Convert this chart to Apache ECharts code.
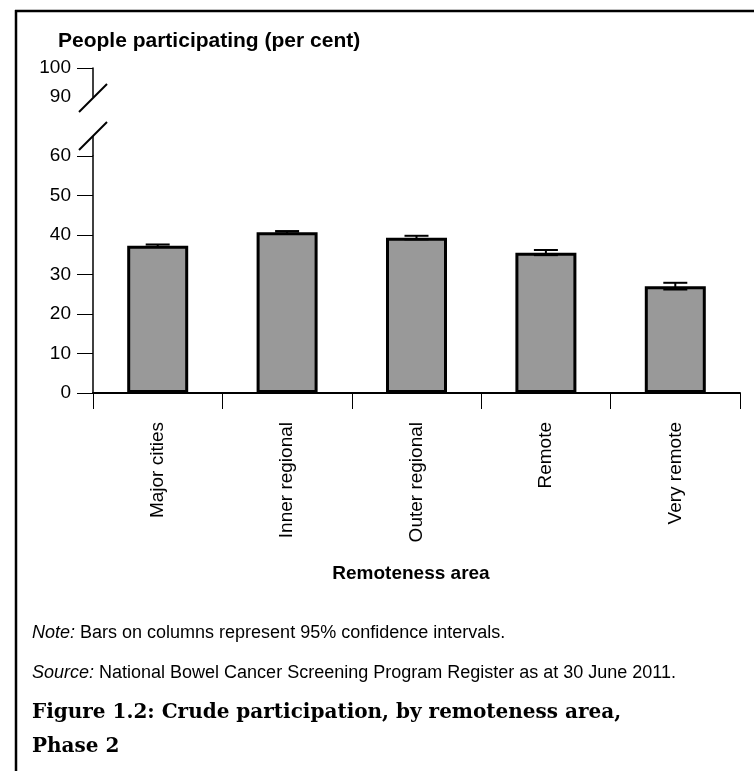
<!DOCTYPE html>
<html>
<head>
<meta charset="utf-8">
<script src="https://cdn.jsdelivr.net/npm/echarts@6/dist/echarts.min.js"></script>
<style>
  html, body { margin: 0; padding: 0; background: #fff; }
  #chart { width: 754px; height: 771px; }
</style>
</head>
<body>
<div id="chart"></div>
<script>
// data
const categories = ["Major cities", "Inner regional", "Outer regional", "Remote", "Very remote"];
const participation = [37.3, 40.7, 39.3, 35.5, 27.0];
const ciLow = [37.0, 40.4, 38.9, 34.9, 26.2];
const ciHigh = [37.6, 41.0, 39.8, 36.2, 27.9];
const lowerTicks = [0, 60, 10]; // min, max, interval
const upperTicks = [90, 100];

const font = "Arial, 'Liberation Sans', sans-serif";
const serif = "'DejaVu Serif', 'Liberation Serif', serif";
const chart = echarts.init(document.getElementById("chart"));

const option = {
  animation: false,
  backgroundColor: "#fff",
  grid: [
    { left: 93, right: 14, top: 156, bottom: 378 },
    { left: 93, right: 14, top: 68, height: 29 }
  ],
  xAxis: [
    {
      type: "category",
      gridIndex: 0,
      data: categories,
      axisLine: { lineStyle: { color: "#000", width: 2 } },
      axisTick: { show: true, length: 16, interval: 0, lineStyle: { color: "#000", width: 1 } },
      axisLabel: { rotate: 90, interval: 0, margin: 29, color: "#000", fontSize: 19, fontFamily: font },
      splitLine: { show: false }
    },
    { type: "category", gridIndex: 1, data: categories, show: false }
  ],
  yAxis: [
    {
      type: "value",
      gridIndex: 0,
      min: lowerTicks[0],
      max: lowerTicks[1],
      interval: lowerTicks[2],
      axisLine: { show: true, lineStyle: { color: "#000", width: 1.5 } },
      axisTick: { show: true, length: 16, lineStyle: { color: "#000", width: 1 } },
      axisLabel: { margin: 22, color: "#000", fontSize: 19, fontFamily: font },
      splitLine: { show: false }
    },
    {
      type: "value",
      gridIndex: 1,
      min: upperTicks[0],
      max: upperTicks[1],
      interval: 10,
      axisLine: { show: true, lineStyle: { color: "#000", width: 1.5 } },
      axisTick: { show: true, length: 16, customValues: [upperTicks[1]], lineStyle: { color: "#000", width: 1 } },
      axisLabel: { margin: 22, color: "#000", fontSize: 19, fontFamily: font, customValues: upperTicks },
      splitLine: { show: false }
    }
  ],
  series: [
    {
      type: "bar",
      xAxisIndex: 0,
      yAxisIndex: 0,
      data: participation,
      barWidth: 61,
      itemStyle: { color: "#999999", borderColor: "#000", borderWidth: 3 }
    },
    {
      type: "custom",
      xAxisIndex: 0,
      yAxisIndex: 0,
      z: 5,
      data: categories.map((c, i) => [i, ciLow[i], ciHigh[i]]),
      renderItem: function (params, api) {
        const lo = api.coord([api.value(0), api.value(1)]);
        const hi = api.coord([api.value(0), api.value(2)]);
        const hw = 12;
        const st = { stroke: "#000", lineWidth: 2 };
        return {
          type: "group",
          children: [
            { type: "line", shape: { x1: lo[0], y1: lo[1], x2: hi[0], y2: hi[1] }, style: st },
            { type: "line", shape: { x1: lo[0] - hw, y1: lo[1], x2: lo[0] + hw, y2: lo[1] }, style: st },
            { type: "line", shape: { x1: hi[0] - hw, y1: hi[1], x2: hi[0] + hw, y2: hi[1] }, style: st }
          ]
        };
      }
    }
  ]
};
chart.setOption(option);

// axis break marks and page text
const ax = 93;
const yBreakTop = chart.convertToPixel({ yAxisIndex: 1 }, upperTicks[0]) + 1;
const y60 = chart.convertToPixel({ yAxisIndex: 0 }, lowerTicks[1]);
const yBreakLow = y60 - 20;
const slash = (cy) => ({
  type: "line",
  shape: { x1: ax - 14, y1: cy + 14, x2: ax + 14, y2: cy - 14 },
  style: { stroke: "#000", lineWidth: 2 }
});
const txt = (x, y, text, extra) => ({
  type: "text",
  x: x,
  y: y,
  style: Object.assign({ text: text, fill: "#000", font: "19px " + font, verticalAlign: "middle" }, extra || {})
});
const noteRich = { i: { fontStyle: "italic", fontSize: 18, fontFamily: font } };

chart.setOption({
  graphic: [
    { type: "line", shape: { x1: 15, y1: 11, x2: 754, y2: 11 }, style: { stroke: "#000", lineWidth: 2.5 } },
    { type: "line", shape: { x1: 16, y1: 10, x2: 16, y2: 771 }, style: { stroke: "#000", lineWidth: 2.5 } },
    slash(yBreakTop),
    slash(yBreakLow),
    { type: "line", shape: { x1: ax, y1: yBreakLow, x2: ax, y2: y60 }, style: { stroke: "#000", lineWidth: 1.5 } },
    txt(58, 41, "People participating (per cent)", { font: "bold 21px " + font }),
    txt(411, 574, "Remoteness area", { font: "bold 19px " + font, align: "center" }),
    txt(32, 633, "{i|Note:} Bars on columns represent 95% confidence intervals.", { font: "18px " + font, rich: noteRich }),
    txt(32, 673, "{i|Source:} National Bowel Cancer Screening Program Register as at 30 June 2011.", { font: "18px " + font, rich: noteRich }),
    txt(32, 713, "Figure 1.2: Crude participation, by remoteness area,", { font: "bold 20px " + serif }),
    txt(32, 747, "Phase 2", { font: "bold 20px " + serif })
  ]
});
</script>
</body>
</html>
